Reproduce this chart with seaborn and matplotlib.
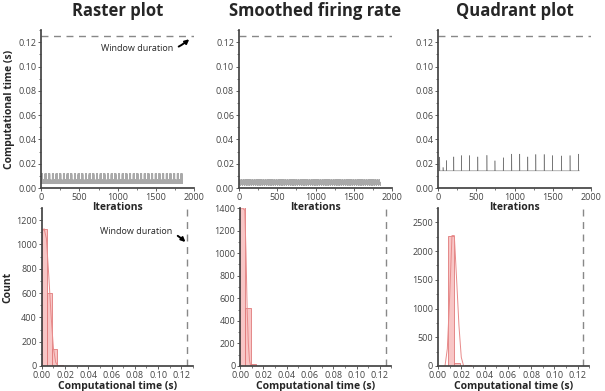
import numpy as np
import pandas as pd
import matplotlib
matplotlib.use('Agg')
import matplotlib.pyplot as plt
import seaborn as sns
from matplotlib.ticker import MultipleLocator, AutoMinorLocator

# Werte
titles = ['Raster plot', 'Smoothed firing rate', 'Quadrant plot']
n_iter = 1850
window_duration = 0.125

raster_cycle = [0.004, 0.012, 0.004, 0.011, 0.004, 0.012, 0.005, 0.012, 0.004, 0.011,
                0.004, 0.012, 0.004, 0.010, 0.004, 0.012, 0.004, 0.011, 0.004, 0.012,
                0.004, 0.006, 0.005, 0.007, 0.004, 0.006, 0.004, 0.005, 0.004, 0.007,
                0.004, 0.006, 0.005, 0.005, 0.004, 0.006, 0.004, 0.007, 0.004, 0.005,
                0.004, 0.006, 0.004, 0.005, 0.004, 0.006, 0.005, 0.006]
# Smoothed: Anfangswerte + Zyklus
smooth_start = [0.012, 0.009, 0.007, 0.005]
smooth_cycle = [0.003, 0.007, 0.004, 0.007, 0.003, 0.007, 0.004, 0.006, 0.003, 0.007,
                0.004, 0.007, 0.003, 0.004, 0.003, 0.005, 0.002, 0.004, 0.003, 0.004,
                0.002, 0.005, 0.003, 0.004]
# Quadrant: Grundlinie + Spitzen
quad_baseline = 0.0142
quad_spike_iter = [22, 66, 109, 206, 306, 411, 520, 639, 744, 853, 963, 1068, 1173,
                   1278, 1387, 1497, 1615, 1725, 1834]
quad_spike_val = [0.0255, 0.017, 0.0227, 0.0257, 0.0268, 0.0268, 0.0257, 0.027, 0.0225,
                  0.025, 0.028, 0.028, 0.0257, 0.0277, 0.0277, 0.0268, 0.0265, 0.0268, 0.028]

# Histogramme (Kanten + Anzahl)
hist_edges = [[0.0, 0.0045, 0.009, 0.0135, 0.018],
              [0.0, 0.0045, 0.009, 0.0135],
              [0.009, 0.0138, 0.0186, 0.0234, 0.0282]]
hist_counts = [[1130, 600, 140, 8],
               [1420, 510, 15],
               [2270, 50, 0, 15]]
# KDE-Kurven
kde_x = [[0.0, 0.002, 0.004, 0.006, 0.008, 0.010, 0.012, 0.014],
         [0.0, 0.002, 0.004, 0.005, 0.006, 0.007, 0.008, 0.009],
         [0.006, 0.008, 0.010, 0.012, 0.014, 0.016, 0.018, 0.020, 0.022]]
kde_y = [[1100, 1130, 1050, 750, 420, 150, 30, 0],
         [1400, 1400, 1380, 1000, 500, 200, 50, 0],
         [0, 300, 1200, 2270, 2270, 1500, 700, 150, 0]]
hist_ylim = [1300, 1400, 2750]
hist_yticks = [200, 200, 500]


def build_series(i):
    if i == 0:
        reps = n_iter // len(raster_cycle) + 1
        return np.tile(raster_cycle, reps)[:n_iter]
    if i == 1:
        reps = n_iter // len(smooth_cycle) + 1
        return np.concatenate([smooth_start, np.tile(smooth_cycle, reps)])[:n_iter]
    vals = np.full(n_iter, quad_baseline)
    vals[quad_spike_iter] = quad_spike_val
    return vals


sns.set_theme(style='ticks')
plt.rcParams['font.family'] = ['Open Sans', 'DejaVu Sans']
plt.rcParams['axes.edgecolor'] = '#444444'
plt.rcParams['xtick.color'] = '#444444'
plt.rcParams['ytick.color'] = '#444444'

fig = plt.figure(figsize=(6.05, 3.91), dpi=100)
top_left = [0.068, 0.395, 0.724]
bot_left = [0.069, 0.397, 0.724]
dash_col = '#888888'
bar_face = '#f6b3b3'
bar_edge = '#e07a7a'
line_alpha = [0.5, 0.5, 0.8]

for i in range(3):
    # obere Reihe: Zeitreihe
    ax = fig.add_axes([top_left[i], 0.519, 0.253, 0.404])
    df = pd.DataFrame({'it': np.arange(n_iter), 't': build_series(i)})
    sns.lineplot(data=df, x='it', y='t', ax=ax, color='#555555', lw=0.4,
                 alpha=line_alpha[i], estimator=None)
    ax.axhline(window_duration, color=dash_col, ls=(0, (5, 4)), lw=1.0)
    ax.set_xlim(0, 2000)
    ax.set_ylim(0, 0.13)
    ax.xaxis.set_major_locator(MultipleLocator(500))
    ax.yaxis.set_major_locator(MultipleLocator(0.02))
    ax.xaxis.set_minor_locator(AutoMinorLocator(2))
    ax.yaxis.set_minor_locator(AutoMinorLocator(2))
    ax.yaxis.set_major_formatter(plt.FormatStrFormatter('%.2f'))
    ax.tick_params(labelsize=6.5, length=2.5, width=0.6, pad=1)
    ax.tick_params(which='minor', length=1.5, width=0.5)
    ax.set_xlabel('Iterations', fontsize=7.5, fontweight='bold', labelpad=0)
    ax.set_ylabel('Computational time (s)' if i == 0 else '', fontsize=7.5, fontweight='bold', labelpad=2)
    ax.set_title(titles[i], fontsize=12, fontweight='bold', pad=10)
    sns.despine(ax=ax)
    if i == 0:
        ax.annotate('Window duration', xy=(1935, 0.1225), xytext=(1250, 0.115),
                    fontsize=6.5, ha='center', va='center',
                    arrowprops=dict(arrowstyle='-|>', color='black', lw=1.4,
                                    connectionstyle='arc3,rad=0.3', shrinkA=2, shrinkB=0,
                                    mutation_scale=6))

    # untere Reihe: Histogramm
    bx = fig.add_axes([bot_left[i], 0.064, 0.25, 0.404])
    bx.patch.set_alpha(0)
    edges = hist_edges[i]
    centers = [(a + b) / 2 for a, b in zip(edges[:-1], edges[1:])]
    sns.histplot(x=centers, weights=hist_counts[i], bins=edges, ax=bx,
                 color=bar_face, edgecolor=bar_edge, linewidth=0.6, alpha=0.75)
    sns.lineplot(x=kde_x[i], y=kde_y[i], ax=bx, color='#e88a8a', lw=0.7)
    bx.axvline(window_duration, color=dash_col, ls=(0, (5, 4)), lw=1.0)
    bx.set_xlim(0, 0.13)
    bx.set_ylim(0, hist_ylim[i])
    bx.xaxis.set_major_locator(MultipleLocator(0.02))
    bx.xaxis.set_minor_locator(AutoMinorLocator(2))
    bx.yaxis.set_major_locator(MultipleLocator(hist_yticks[i]))
    bx.yaxis.set_minor_locator(AutoMinorLocator(2))
    bx.xaxis.set_major_formatter(plt.FormatStrFormatter('%.2f'))
    bx.tick_params(labelsize=6.5, length=2.5, width=0.6, pad=1)
    bx.tick_params(which='minor', length=1.5, width=0.5)
    bx.set_xlabel('Computational time (s)', fontsize=7.5, fontweight='bold', labelpad=1)
    bx.set_ylabel('Count' if i == 0 else '', fontsize=7.5, fontweight='bold', labelpad=2)
    sns.despine(ax=bx)
    if i == 0:
        bx.annotate('Window duration', xy=(0.1235, 1020), xytext=(0.081, 1110),
                    fontsize=6.5, ha='center', va='center',
                    arrowprops=dict(arrowstyle='-|>', color='black', lw=1.4,
                                    connectionstyle='arc3,rad=-0.3', shrinkA=2, shrinkB=0,
                                    mutation_scale=6))

fig.savefig('out.png', dpi=100)
